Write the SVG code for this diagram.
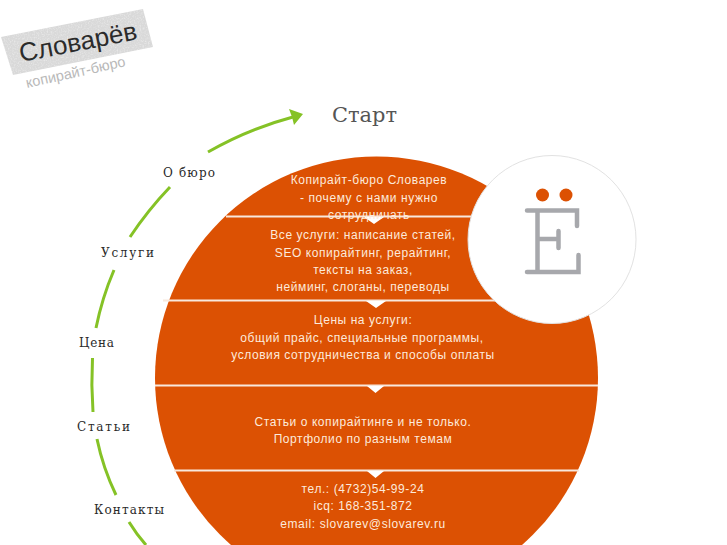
<svg xmlns="http://www.w3.org/2000/svg" width="727" height="545" viewBox="0 0 727 545">
<defs>
<filter id="grain" x="0" y="0" width="100%" height="100%">
<feTurbulence type="fractalNoise" baseFrequency="0.7" numOctaves="2" seed="4" result="n"/>
<feColorMatrix in="n" type="matrix" values="0 0 0 0 1  0 0 0 0 1  0 0 0 0 1  0 0 0 0.9 -0.4" result="w"/>
<feComposite in="w" in2="SourceGraphic" operator="in" result="speck"/>
<feMerge><feMergeNode in="SourceGraphic"/><feMergeNode in="speck"/></feMerge>
</filter>
</defs>
<style>
.nav{font-family:"DejaVu Serif","Liberation Serif",serif;font-size:12px;fill:#2a2a2a}
.body{font-family:"Liberation Sans",Arial,sans-serif;font-size:12px;letter-spacing:.57px;fill:#fdeadb;text-anchor:middle}
.rule{stroke:#f8e8dc;stroke-width:2}
.arc{fill:none;stroke:#85c226;stroke-width:3}
</style>
<rect width="727" height="545" fill="#fff"/>
<g id="logo">
<polygon points="1,37 143,9 153,47 13,75" fill="#d9d9d9" filter="url(#grain)"/>
<text transform="translate(21,62) rotate(-11)" font-family="Liberation Sans,Arial,sans-serif" font-size="26" fill="#2b2b2b">Словарёв</text>
<text transform="translate(27,88) rotate(-12.500)" font-family="Liberation Sans,Arial,sans-serif" font-size="14.500" fill="#b9b9b9">копирайт-бюро</text>
</g>
<g id="connectors">
<path class="arc" d="M208 152Q248 129 293 117"/>
<path d="M289 109L303 114L294 125L292 117Z" fill="#85c226"/>
<path class="arc" d="M170 187Q148 210 130 237"/>
<path class="arc" d="M114 270Q102 298 96 328"/>
<path class="arc" d="M92.500 358Q91 385 93 412"/>
<path class="arc" d="M97 439Q103 468 116 495"/>
<path class="arc" d="M129 522Q137 535 146 545"/>
</g>
<g id="start"><text x="332" y="122" textLength="65" lengthAdjust="spacingAndGlyphs" font-family="DejaVu Serif,serif" font-size="20" fill="#555">Старт</text></g>
<g id="disc">
<circle cx="376.500" cy="378" r="221.500" fill="#dc5103"/>
<path class="rule" d="M226 216.500H527M163 300.500H590M155 385.500H598M174 470.500H579"/>
<path d="M364 217H384L374 224ZM366 301H386L376 308ZM367 386H384L375.500 393ZM367 471H384L375.500 478Z" fill="#fff"/>
</g>
<g id="section-about">
<text class="body" x="369" y="184">Копирайт-бюро Словарев</text>
<text class="body" x="369" y="202">- почему с нами нужно</text>
<text class="body" x="369" y="219">сотрудничать</text>
</g>
<g id="section-services">
<text class="body" x="363" y="239">Все услуги: написание статей,</text>
<text class="body" x="363" y="257">SEO копирайтинг, рерайтинг,</text>
<text class="body" x="363" y="274">тексты на заказ,</text>
<text class="body" x="363" y="291">нейминг, слоганы, переводы</text>
</g>
<g id="section-prices">
<text class="body" x="363" y="324">Цены на услуги:</text>
<text class="body" x="362" y="342">общий прайс, специальные программы,</text>
<text class="body" x="363" y="359">условия сотрудничества и способы оплаты</text>
</g>
<g id="section-articles">
<text class="body" x="363" y="426">Статьи о копирайтинге и не только.</text>
<text class="body" x="363" y="443">Портфолио по разным темам</text>
</g>
<g id="section-contacts">
<text class="body" x="363" y="493">тел.: (4732)54-99-24</text>
<text class="body" x="363" y="510">icq: 168-351-872</text>
<text class="body" x="363" y="528">email: slovarev@slovarev.ru</text>
</g>
<g id="badge">
<circle cx="552" cy="239.500" r="84" fill="#fff" stroke="#e2e2e2" stroke-width="1"/>
<circle cx="542.500" cy="195" r="6.500" fill="#dc5103"/>
<circle cx="566" cy="195" r="6.500" fill="#dc5103"/>
<path d="M527 210.500H577V226M537.500 210.500V272M537.500 239H558.500M558.500 231V248M527 272H578.500V255" fill="none" stroke="#a7a8ac" stroke-width="4.500" stroke-linecap="round"/>
</g>
<g id="nav-about"><text class="nav" x="163" y="177" textLength="52">О бюро</text></g>
<g id="nav-services"><text class="nav" x="101" y="257" textLength="53">Услуги</text></g>
<g id="nav-prices"><text class="nav" x="79" y="347" textLength="35">Цена</text></g>
<g id="nav-articles"><text class="nav" x="77" y="431" textLength="53">Статьи</text></g>
<g id="nav-contacts"><text class="nav" x="94" y="514" textLength="70">Контакты</text></g>
</svg>
